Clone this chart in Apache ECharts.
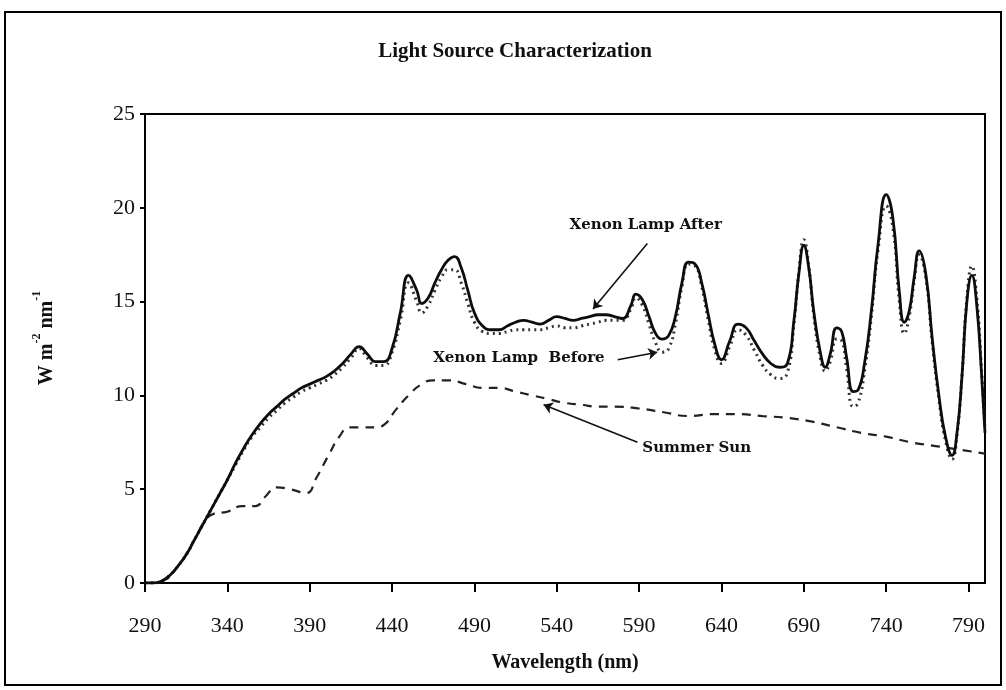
<!DOCTYPE html>
<html>
<head>
<meta charset="utf-8">
<script src="https://cdn.jsdelivr.net/npm/echarts@6/dist/echarts.min.js"></script>
<style>
html,body{margin:0;padding:0;background:#fff;}
#chart{width:1006px;height:690px;}
</style>
</head>
<body>
<div id="chart"></div>
<script>
// ---- data ----
const xenonWavelengths = [290,295,300,305,310,315,320,325,330,335,340,345,350,355,360,365,370,375,380,385,390,395,400,405,410,415,420,425,430,435,440,445,450,455,458,462,466,470,474,478,482,486,490,495,500,505,510,515,520,525,530,535,540,545,550,555,560,565,570,575,580,585,588,592,596,600,604,608,612,616,620,624,628,632,636,640,645,650,655,660,665,670,675,680,684,687,690,693,696,700,703,706,710,713,716,720,723,727,731,735,740,744,748,751,754,757,760,764,768,772,776,780,783,786,789,792,795,798,800];
const xenonAfter = [0,0,0.1,0.4,0.9,1.5,2.3,3.1,3.9,4.7,5.5,6.4,7.2,7.9,8.5,9.0,9.4,9.8,10.1,10.4,10.6,10.8,11.0,11.3,11.7,12.2,12.6,12.2,11.8,11.8,12.5,14.4,16.4,15.6,14.9,15.2,16.0,16.7,17.2,17.4,16.8,15.6,14.4,13.7,13.5,13.5,13.7,13.9,14.0,13.9,13.8,14.0,14.2,14.1,14.0,14.1,14.2,14.3,14.3,14.2,14.1,14.8,15.4,15.1,14.2,13.3,13.0,13.2,14.2,16.0,17.1,17.0,16.0,14.3,12.7,11.9,12.9,13.8,13.6,12.9,12.2,11.7,11.5,11.7,14.0,16.5,18.0,16.8,14.5,12.3,11.5,12.2,13.6,13.4,12.0,10.2,10.3,11.8,14.5,18.0,20.7,19.5,15.5,13.9,14.5,16.3,17.7,16.5,13.0,10.0,7.8,6.8,8.0,11.0,15.0,16.4,14.8,11.0,8.0];
const xenonBefore = [0,0,0.1,0.4,0.9,1.5,2.3,3.1,3.9,4.7,5.5,6.3,7.1,7.8,8.3,8.8,9.2,9.6,9.9,10.2,10.4,10.6,10.8,11.1,11.5,12.0,12.5,12.0,11.6,11.6,12.3,14.0,16.0,15.0,14.4,14.8,15.6,16.3,16.7,16.7,16.0,14.9,13.9,13.4,13.3,13.3,13.4,13.5,13.5,13.5,13.5,13.6,13.7,13.6,13.6,13.7,13.8,13.9,14.0,14.0,14.0,14.6,15.2,14.8,13.8,12.8,12.3,12.5,13.8,15.8,17.0,16.9,15.8,14.0,12.4,11.7,12.6,13.5,13.2,12.4,11.6,11.1,10.9,11.2,13.8,16.6,18.3,16.9,14.3,12.0,11.3,11.8,13.0,12.9,11.4,9.4,9.6,11.4,14.2,17.7,20.1,19.0,15.0,13.3,14.2,16.1,17.5,16.3,12.8,9.8,7.6,6.6,7.9,11.0,15.2,16.9,15.2,11.2,8.2];
const sunWavelengths = [290,300,310,320,327,332,340,349,357,363,370,378,388,394,402,408,414,422,430,436,442,450,458,465,475,485,495,505,515,525,535,545,555,565,575,590,605,620,635,650,665,680,695,710,725,740,755,770,785,800];
const summerSun = [0,0.1,0.9,2.3,3.4,3.7,3.8,4.1,4.1,4.6,5.1,5.0,4.8,5.6,6.9,7.8,8.3,8.3,8.3,8.5,9.2,10.0,10.6,10.8,10.8,10.6,10.4,10.4,10.2,10.0,9.8,9.6,9.5,9.4,9.4,9.3,9.1,8.9,9.0,9.0,8.9,8.8,8.6,8.3,8.0,7.8,7.5,7.3,7.1,6.9];
const xTicks = [290,340,390,440,490,540,590,640,690,740,790];
const yTicks = [0,5,10,15,20,25];
const labels = {after:'Xenon Lamp After', before:'Xenon Lamp  Before', sun:'Summer Sun'};
// annotation anchor points (data space)
const afterArrow = [[595,18.1],[562,14.6]];
const beforeArrow = [[577,11.9],[601,12.3]];
const sunArrow = [[589,7.5],[532,9.5]];
const afterText = [594,19.1];
const beforeText = [517,12.0];
const sunText = [625,7.2];

function pairs(xs, ys){ return xs.map((x,i)=>[x, ys[i]]); }

const chart = echarts.init(document.getElementById('chart'));
const serif = '"Liberation Serif","Times New Roman",serif';
const annFont = '"DejaVu Serif",serif';

function arrow(a){
  return [{coord:a[0], symbol:'none'},{coord:a[1], symbol:'arrow'}];
}

chart.setOption({
  animation:false,
  backgroundColor:'#fff',
  grid:{left:145, right:21, top:114, bottom:107, show:true, borderColor:'#000', borderWidth:2, backgroundColor:'transparent'},
  xAxis:{
    type:'value', min:290, max:800,
    name:'Wavelength (nm)', nameLocation:'middle', nameGap:70,
    nameTextStyle:{fontFamily:serif, fontWeight:'bold', fontSize:20, color:'#111'},
    axisLine:{show:true, onZero:false, lineStyle:{color:'#000', width:2}},
    axisTick:{show:true, length:9, inside:false, lineStyle:{color:'#000', width:2}, customValues:xTicks},
    axisLabel:{fontFamily:serif, fontSize:22, color:'#111', margin:32, customValues:xTicks},
    splitLine:{show:false}
  },
  yAxis:{
    type:'value', min:0, max:25, interval:5,
    axisLine:{show:true, lineStyle:{color:'#000', width:2}},
    axisTick:{show:true, length:5, lineStyle:{color:'#000', width:2}},
    axisLabel:{fontFamily:serif, fontSize:22, color:'#111', margin:10},
    splitLine:{show:false}
  },
  graphic:[
    {type:'rect', shape:{x:5, y:12, width:996, height:673}, style:{fill:'none', stroke:'#000', lineWidth:2}, z:-1},
    {type:'text', x:515, y:52, style:{text:'Light Source Characterization', font:'bold 21px '+serif, fill:'#111', textAlign:'center', textVerticalAlign:'middle'}},
    {type:'text', x:44, y:338, rotation:Math.PI/2,
      style:{text:'{a|W m}{s|-2}{a| nm}{s|-1}', textAlign:'center', textVerticalAlign:'middle',
        rich:{a:{fontFamily:serif, fontWeight:'bold', fontSize:20, lineHeight:26, fill:'#111', color:'#111', verticalAlign:'bottom'},
              s:{fontFamily:serif, fontWeight:'bold', fontSize:12, lineHeight:26, fill:'#111', color:'#111', verticalAlign:'top'}}}}
  ],
  series:[
    {
      name:labels.before, type:'line', data:pairs(xenonWavelengths, xenonBefore),
      showSymbol:false, smooth:0.5,
      lineStyle:{color:'#333', width:3, type:[2,4]}, z:2
    },
    {
      name:labels.sun, type:'line', data:pairs(sunWavelengths, summerSun),
      showSymbol:false, smooth:0.5,
      lineStyle:{color:'#222', width:2.2, type:[9,7]}, z:2,
      markLine:{silent:true, symbolSize:9, label:{show:false},
        lineStyle:{color:'#111', width:1.6, type:'solid'},
        data:[arrow(afterArrow), arrow(beforeArrow), arrow(sunArrow)]},
      markPoint:{silent:true, symbol:'circle', symbolSize:0,
        label:{show:true, position:'inside', formatter:'{b}', fontFamily:annFont, fontWeight:'bold', fontSize:15, color:'#111'},
        data:[{name:labels.after, coord:afterText},{name:labels.before, coord:beforeText},{name:labels.sun, coord:sunText}]}
    },
    {
      name:labels.after, type:'line', data:pairs(xenonWavelengths, xenonAfter),
      showSymbol:false, smooth:0.5,
      lineStyle:{color:'#0d0d0d', width:2.8, type:'solid'}, z:3
    }
  ]
});
</script>
</body>
</html>
